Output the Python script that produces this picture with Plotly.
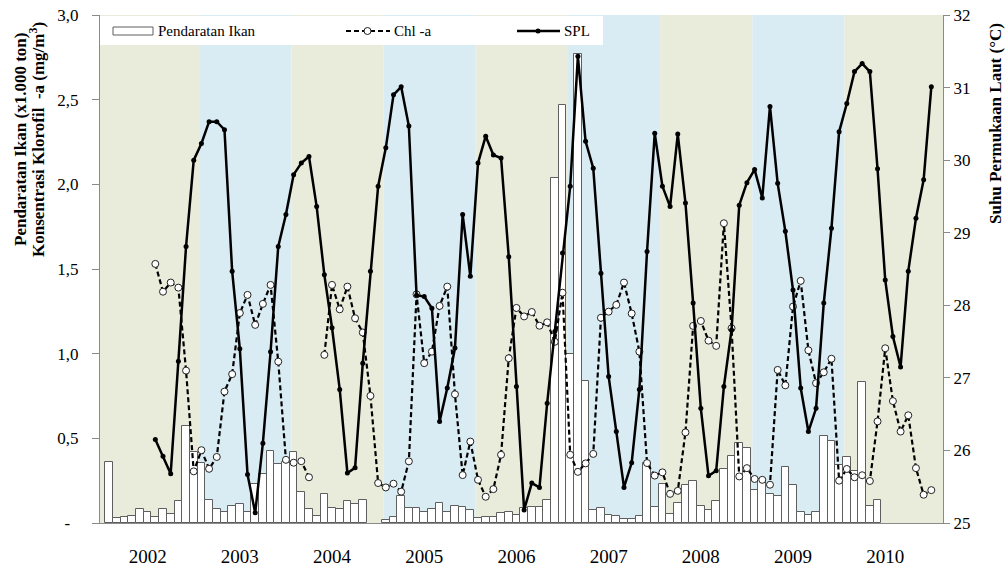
import plotly.graph_objects as go

# ---------------- data ----------------
years = ["2002", "2003", "2004", "2005", "2006", "2007", "2008", "2009", "2010"]

# month index 0 = January 2002
landing_start = 0   # fish landing series starts Jan 2002
line_start = 6      # Chl-a and SST series start Jul 2002

# Pendaratan Ikan (x1.000 ton), monthly
landing = [0.363, 0.03, 0.035, 0.043, 0.083, 0.063, 0.035, 0.083, 0.055, 0.131,
           0.574, 0.417, 0.354, 0.137, 0.083, 0.065, 0.098, 0.114, 0.063, 0.232,
           0.289, 0.427, 0.348, 0.36, 0.42, 0.186, 0.085, 0.04, 0.17, 0.088,
           0.085, 0.127, 0.114, 0.137, None, None, 0.015, 0.033, 0.157, 0.088,
           0.088, 0.065, 0.08, 0.121, 0.065, 0.098, 0.092, 0.075, 0.03, 0.035,
           0.035, 0.059, 0.065, 0.05, 0.088, 0.092, 0.092, 0.133, 2.035, 2.47,
           1.0, 2.77, 0.84, 0.078, 0.088, 0.05, 0.043, 0.025, 0.025, 0.04,
           0.357, 0.094, 0.232, 0.054, 0.118, 0.223, 0.248, 0.098, 0.078, 0.128,
           0.32, 0.393, 0.472, 0.44, 0.196, 0.26, 0.17, 0.16, 0.33, 0.226,
           0.065, 0.049, 0.065, 0.511, 0.487, 0.344, 0.389, 0.31, 0.835, 0.098,
           0.137]

# Chl-a (mg/m3), monthly from Jul 2002
chl = [1.53, 1.366, 1.42, 1.39, 0.90, 0.305, 0.43, 0.32, 0.39, 0.776,
       0.879, 1.24, 1.347, 1.17, 1.294, 1.406, 0.953, 0.373, 0.356, 0.365,
       0.27, None, 0.993, 1.406, 1.262, 1.396, 1.209, 1.125, 0.751, 0.236,
       0.21, 0.232, 0.185, 0.364, 1.35, 0.944, 1.012, 1.282, 1.396, 0.76,
       0.283, 0.481, 0.255, 0.155, 0.2, 0.403, 0.973, 1.27, 1.22, 1.246,
       1.165, 1.185, 1.07, 1.36, 0.403, 0.302, 0.352, 0.408, 1.212, 1.248,
       1.288, 1.42, 1.237, 1.012, 0.354, 0.28, 0.299, 0.172, 0.19, 0.535,
       1.164, 1.193, 1.077, 1.046, 1.77, 1.15, 0.275, 0.324, 0.26, 0.255,
       0.226, 0.904, 0.813, 1.278, 1.43, 1.02, 0.826, 0.89, 0.97, 0.25,
       0.319, 0.27, 0.282, 0.248, 0.6, 1.032, 0.72, 0.54, 0.636, 0.324,
       0.167, 0.194]

# SPL / SST (deg C), monthly from Jul 2002
spl = [26.15, 25.92, 25.68, 27.23, 28.81, 30.0, 30.23, 30.53, 30.53, 30.42,
       28.47, 27.4, 25.67, 25.14, 26.1, 27.36, 28.81, 29.25, 29.8, 29.96,
       30.05, 29.36, 28.42, 27.69, 26.84, 25.69, 25.76, 27.2, 28.47, 29.64,
       30.17, 30.9, 31.01, 30.47, 28.14, 28.12, 27.96, 26.4, 26.86, 27.41,
       29.25, 28.4, 29.96, 30.33, 30.07, 30.03, 28.67, 26.88, 25.18, 25.55,
       25.49, 26.65, 27.64, 28.72, 29.64, 31.43, 30.26, 29.89, 28.44, 27.02,
       26.26, 25.49, 25.83, 26.84, 28.74, 30.37, 29.64, 29.36, 30.36, 29.41,
       28.03, 26.58, 25.65, 25.72, 26.88, 27.66, 29.38, 29.69, 29.87, 29.48,
       30.74, 29.68, 29.02, 28.21, 26.86, 26.26, 26.58, 28.03, 29.06, 30.39,
       30.78, 31.22, 31.33, 31.22, 29.88, 28.35, 27.57, 27.15, 28.47, 29.2,
       29.73, 31.01]

left_ticks = [0, 0.5, 1.0, 1.5, 2.0, 2.5, 3.0]
left_ticktext = ["-\u00a0\u00a0", "0,5", "1,0", "1,5", "2,0", "2,5", "3,0"]

# ---------------- layout constants ----------------
FONT = "Liberation Serif, Times New Roman, serif"
W, H = 1008, 568
L, R, T, B = 100, 65, 15, 45
PW, PH = W - L - R, H - T - B
GREEN = "#E9ECDB"
BLUE = "#D9EBF3"
AXC = "#8a8a8a"
DASH = "5px,3px"


def pxx(px):
    return (px - L) / PW


def pxy(py):
    return (H - B - py) / PH


bar_x = [landing_start + i for i in range(len(landing))]
line_x = [line_start + i for i in range(len(chl))]

fig = go.Figure()
fig.add_trace(go.Bar(
    x=bar_x, y=landing, width=1, name="Pendaratan Ikan",
    marker=dict(color="white", line=dict(color="#5e5e5e", width=1)),
    showlegend=False))
fig.add_trace(go.Scatter(
    x=line_x, y=chl, name="Chl -a", mode="lines+markers", connectgaps=False,
    line=dict(color="black", width=2.2, dash=DASH),
    marker=dict(symbol="circle", size=7, color="white",
                line=dict(color="#222222", width=1)),
    showlegend=False))
fig.add_trace(go.Scatter(
    x=line_x, y=spl, name="SPL", mode="lines+markers", yaxis="y2",
    line=dict(color="black", width=2.5),
    marker=dict(symbol="circle", size=5, color="black"),
    showlegend=False))

# alternating year bands
xmin, xmax = -1.2, 108.52
edges = [xmin] + [12 * k - 0.3 for k in range(1, 9)] + [xmax]
shapes = []
for k in range(9):
    shapes.append(dict(type="rect", xref="x", yref="paper",
                       x0=edges[k], x1=edges[k + 1], y0=0, y1=1,
                       fillcolor=GREEN if k % 2 == 0 else BLUE,
                       line=dict(width=0), layer="below"))

# manual legend
shapes.append(dict(type="rect", xref="paper", yref="paper",
                   x0=pxx(100), x1=pxx(603), y0=pxy(45), y1=pxy(16),
                   fillcolor="white", line=dict(width=0), layer="below"))
shapes.append(dict(type="rect", xref="paper", yref="paper",
                   x0=pxx(113), x1=pxx(153), y0=pxy(35), y1=pxy(27),
                   fillcolor="white", line=dict(color="#5e5e5e", width=1),
                   layer="above"))
shapes.append(dict(type="line", xref="paper", yref="paper",
                   x0=pxx(346), x1=pxx(390), y0=pxy(31), y1=pxy(31),
                   line=dict(color="black", width=2, dash=DASH), layer="above"))
shapes.append(dict(type="circle", xref="paper", yref="paper",
                   x0=pxx(364), x1=pxx(371), y0=pxy(34.5), y1=pxy(27.5),
                   fillcolor="white", line=dict(color="#222222", width=1),
                   layer="above"))
shapes.append(dict(type="line", xref="paper", yref="paper",
                   x0=pxx(517), x1=pxx(560), y0=pxy(31), y1=pxy(31),
                   line=dict(color="black", width=2.5), layer="above"))
shapes.append(dict(type="circle", xref="paper", yref="paper",
                   x0=pxx(535.5), x1=pxx(540.5), y0=pxy(33.5), y1=pxy(28.5),
                   fillcolor="black", line=dict(color="black", width=0),
                   layer="above"))

annotations = []
for txt, x in [("Pendaratan Ikan", 156), ("Chl -a", 392), ("SPL", 562)]:
    annotations.append(dict(text=txt, xref="paper", yref="paper",
                            x=pxx(x), y=pxy(31), xanchor="left", yanchor="middle",
                            showarrow=False, font=dict(family=FONT, size=15, color="black")))

annotations.append(dict(text="<b>Pendaratan Ikan (x1.000 ton)</b>",
                        xref="paper", yref="paper", x=pxx(20), y=pxy(140),
                        xanchor="center", yanchor="middle", textangle=-90,
                        showarrow=False, font=dict(family=FONT, size=17, color="black")))
annotations.append(dict(text="<b>Konsentrasi Klorofil\u00a0 -a (mg/m<sup>3</sup>)</b>",
                        xref="paper", yref="paper", x=pxx(37), y=pxy(140),
                        xanchor="center", yanchor="middle", textangle=-90,
                        showarrow=False, font=dict(family=FONT, size=17, color="black")))
annotations.append(dict(text="<b>Suhu Permukaan Laut (°C)</b>",
                        xref="paper", yref="paper", x=pxx(996), y=pxy(123),
                        xanchor="center", yanchor="middle", textangle=-90,
                        showarrow=False, font=dict(family=FONT, size=17, color="black")))

fig.update_layout(
    width=W, height=H,
    margin=dict(l=L, r=R, t=T, b=B, pad=0, autoexpand=False),
    paper_bgcolor="white", plot_bgcolor="white",
    bargap=0, showlegend=False,
    font=dict(family=FONT, color="black"),
    shapes=shapes, annotations=annotations,
    xaxis=dict(range=[xmin, xmax], tickmode="array", automargin=False,
               tickvals=[5 + 12 * k for k in range(len(years))], ticktext=years,
               showgrid=False, zeroline=False, showline=True, linecolor=AXC,
               linewidth=1, ticks="", ticklabelstandoff=16,
               tickfont=dict(family=FONT, size=19, color="black")),
    yaxis=dict(range=[0, 3], tickmode="array", tickvals=left_ticks, automargin=False,
               ticktext=left_ticktext, showgrid=False, zeroline=False,
               showline=True, linecolor=AXC, linewidth=1, ticks="outside",
               ticklen=7, tickcolor=AXC, ticklabelstandoff=10,
               tickfont=dict(family=FONT, size=17, color="black")),
    yaxis2=dict(range=[25, 32], overlaying="y", side="right", dtick=1, automargin=False,
                showgrid=False, zeroline=False, showline=True, linecolor=AXC,
                linewidth=1, ticks="outside", ticklen=6, tickcolor=AXC,
                tickfont=dict(family=FONT, size=17, color="black")),
)

fig.write_html("out.html", config={"displayModeBar": False},
               post_script="document.body.style.margin='0';document.body.style.padding='0';")
